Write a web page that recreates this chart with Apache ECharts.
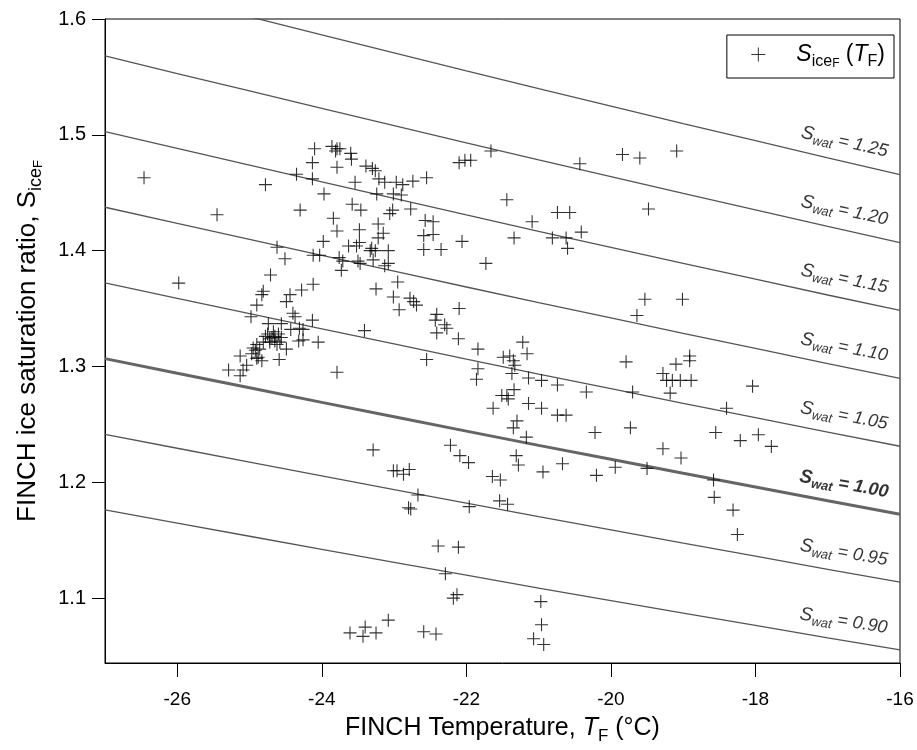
<!DOCTYPE html>
<html><head><meta charset="utf-8">
<script src="https://cdn.jsdelivr.net/npm/echarts@6/dist/echarts.min.js"></script>
<style>html,body{margin:0;padding:0;background:#fff}#c{width:917px;height:750px}</style>
</head><body><div id="c"></div>
<script>
// ---- data ----
const tempF = [
-26.46,-24.78,-24.35,-24.10,-24.13,-24.13,-23.86,-23.79,-23.75,-23.81,-23.60,-23.59,-23.79,-23.39,-23.30,-23.26,-23.21,-23.13,-22.97,-23.54,
-23.97,-23.24,-23.01,-24.30,-25.45,-23.58,-23.46,-23.02,-23.06,-23.84,-23.79,-23.48,-23.22,-23.15,-23.22,-23.98,-23.63,-23.52,-23.48,-23.31,
-23.33,-23.26,-23.08,-24.62,-24.51,-24.12,-24.03,-23.76,-23.71,-23.50,-23.47,-23.29,-23.13,-23.08,-23.73,-24.71,-25.98,-24.12,-24.28,-24.44,
-24.49,-24.81,-24.83,-24.90,-23.25,-23.01,-22.95,-24.98,-24.40,-24.37,-24.13,-24.74,-24.56,-24.43,-24.31,-24.26,-23.41,-24.05,-24.32,-24.26,
-23.79,-22.93,-24.75,-24.69,-24.65,-24.60,-24.56,-24.65,-24.72,-24.62,-24.58,-24.90,-24.81,-24.86,-24.95,-24.92,-24.49,-24.59,-25.13,-24.97,
-24.88,-24.83,-25.29,-25.13,-25.09,-25.04,-24.90,-24.72,-24.67,-24.78,
-22.78,-22.73,-22.69,-22.41,-22.43,-22.41,-22.30,-22.27,-22.10,-22.11,-21.84,-21.84,-21.86,-22.55,-21.22,-21.16,-21.49,-21.40,-21.35,-21.33,
-21.37,-21.14,-20.96,-21.34,-21.51,-21.44,-21.42,-21.63,-21.14,-20.96,-21.30,-21.35,-21.17,-21.31,-21.28,-20.94,-21.64,-21.53,-21.54,-21.43,
-22.22,-22.09,-21.97,-23.29,-23.01,-22.96,-22.87,-22.79,-22.67,-22.80,-22.77,-21.96,-22.39,-22.11,-22.29,-22.18,-22.13,-23.08,-23.61,-23.40,
-23.43,-23.25,-22.59,-22.42,-20.97,-20.96,-21.07,-20.93,
-21.44,-21.09,-20.74,-20.57,-20.43,-19.84,-19.60,-19.09,-19.48,-21.34,-20.81,-20.62,-20.60,-20.41,-19.53,-19.01,-19.64,-19.79,-19.10,-18.91,
-18.91,-20.74,-20.34,-19.70,-19.28,-19.23,-19.15,-19.04,-18.89,-19.18,-18.04,-20.74,-20.62,-18.40,-20.22,-19.73,-18.55,-18.21,-17.96,-17.78,
-19.28,-19.03,-20.67,-20.20,-19.94,-19.50,-18.58,-18.57,-18.31,-18.25,
-22.88,-22.74,-22.55,-22.90,-22.77,-22.57,-22.46,-22.59,-22.46,-22.59,-22.35,-22.06,-22.10,-22.02,-21.94,-21.66,-21.73
];
const sIceF = [
1.463,1.457,1.466,1.488,1.476,1.462,1.490,1.488,1.488,1.486,1.484,1.479,1.472,1.473,1.471,1.469,1.462,1.459,1.459,1.459,
1.449,1.449,1.449,1.435,1.431,1.440,1.435,1.435,1.432,1.428,1.417,1.418,1.423,1.415,1.411,1.408,1.404,1.404,1.407,1.402,
1.400,1.400,1.400,1.403,1.393,1.396,1.396,1.394,1.391,1.391,1.389,1.392,1.387,1.389,1.383,1.379,1.372,1.371,1.366,1.362,
1.356,1.365,1.362,1.353,1.367,1.360,1.373,1.343,1.346,1.343,1.340,1.337,1.337,1.332,1.333,1.332,1.331,1.321,1.322,1.323,
1.295,1.349,1.328,1.325,1.326,1.328,1.325,1.322,1.321,1.319,1.321,1.319,1.321,1.315,1.316,1.314,1.315,1.306,1.309,1.311,
1.308,1.305,1.297,1.292,1.297,1.301,1.307,1.324,1.330,1.326,
1.359,1.356,1.353,1.345,1.340,1.329,1.336,1.333,1.350,1.324,1.315,1.298,1.289,1.306,1.321,1.311,1.308,1.309,1.305,1.301,
1.294,1.290,1.288,1.280,1.275,1.275,1.272,1.264,1.268,1.264,1.253,1.247,1.239,1.223,1.215,1.209,1.205,1.202,1.184,1.181,
1.232,1.223,1.217,1.228,1.210,1.210,1.207,1.211,1.189,1.178,1.177,1.179,1.145,1.144,1.121,1.100,1.103,1.081,1.070,1.075,
1.067,1.070,1.071,1.069,1.097,1.077,1.065,1.060,
1.444,1.425,1.433,1.433,1.475,1.483,1.480,1.486,1.436,1.411,1.411,1.411,1.402,1.416,1.358,1.358,1.344,1.304,1.302,1.309,
1.305,1.284,1.278,1.278,1.294,1.288,1.288,1.288,1.288,1.277,1.283,1.258,1.258,1.264,1.243,1.247,1.243,1.236,1.241,1.231,
1.229,1.221,1.216,1.206,1.213,1.212,1.202,1.187,1.176,1.155,
1.457,1.460,1.463,1.448,1.436,1.426,1.425,1.413,1.414,1.401,1.401,1.408,1.476,1.478,1.478,1.486,1.389
];
// water/ice saturation ratio (the S_wat = 1.00 curve) read along the temperature axis
const curveTemps = [-27,-26,-25,-24,-23,-22,-21,-20,-19,-18,-17,-16];
const waterIceRatio = [1.3068,1.2941,1.2816,1.2690,1.2566,1.2442,1.2319,1.2199,1.2078,1.1960,1.1841,1.1725];
const swatLevels = [0.90,0.95,1.00,1.05,1.10,1.15,1.20,1.25];
const swatLabels = ['0.90','0.95','1.00','1.05','1.10','1.15','1.20','1.25'];
const labelTemp = -17;
const xTicks = [-26,-24,-22,-20,-18,-16];
const yTicks = [1.1,1.2,1.3,1.4,1.5,1.6];

const FONT = '"Liberation Sans", Arial, Helvetica, sans-serif';
const PLUS = 'path://M0,6L12,6M6,0L6,12';
const chart = echarts.init(document.getElementById('c'), null, {renderer:'canvas'});

const series = [];
swatLevels.forEach((lv, i) => {
  const bold = lv === 1.00;
  series.push({
    type:'line', name:'swat'+i, silent:true, showSymbol:false, symbol:'none', z:1,
    data: curveTemps.map((t, k) => [t, lv * waterIceRatio[k]]),
    lineStyle:{color: bold ? '#656565' : '#555555', width: bold ? 3 : 1.3},
    smooth: false
  });
  const k = curveTemps.indexOf(labelTemp);
  const ang = -Math.atan(lv * 0.18) * 180 / Math.PI;
  const fw = bold ? 'bold' : 'normal';
  series.push({
    type:'scatter', name:'lab'+i, silent:true, symbolSize:0, z:3,
    data:[[labelTemp, lv * waterIceRatio[k]]],
    label:{
      show:true, position:'inside', offset:[13,-19], rotate: ang,
      formatter: '{s|S}{w|wat}{e| = ' + swatLabels[i] + '}',
      rich:{
        s:{fontFamily:FONT, fontStyle:'italic', fontWeight:fw, fontSize:19, lineHeight:24, color:'#000'},
        w:{fontFamily:FONT, fontStyle:'italic', fontWeight:fw, fontSize:13, lineHeight:14, verticalAlign:'bottom', color:'#000'},
        e:{fontFamily:FONT, fontStyle:'italic', fontWeight:fw, fontSize:18, lineHeight:24, color:'#000'}
      }
    }
  });
});
series.push({
  type:'scatter', name:'Sice', z:5,
  data: tempF.map((t, i) => [t, sIceF[i]]),
  symbol: PLUS, symbolSize: 13,
  itemStyle:{color:'rgba(0,0,0,0)', borderColor:'#000', borderWidth:1.1}
});

function titleRich(fs) {
  return {
    s:{fontFamily:FONT, fontSize:fs, lineHeight:fs+8, color:'#000'},
    si:{fontFamily:FONT, fontStyle:'italic', fontSize:fs, lineHeight:fs+8, color:'#000'},
    sub:{fontFamily:FONT, fontSize:Math.round(fs*0.68), lineHeight:Math.round(fs*0.68)+2, verticalAlign:'bottom', color:'#000'},
    ss:{fontFamily:FONT, fontSize:Math.round(fs*0.5), lineHeight:Math.round(fs*0.5), verticalAlign:'bottom', color:'#000'}
  };
}

chart.setOption({
  animation:false,
  backgroundColor:'#fff',
  grid:{left:105, right:17, top:19, bottom:76, show:true, borderColor:'#000', borderWidth:1, backgroundColor:'transparent'},
  legend:{
    right:23, top:35, orient:'horizontal',
    borderColor:'#000', borderWidth:1, borderRadius:0, padding:[8,9,8,24],
    itemWidth:14, itemHeight:14,
    itemStyle:{color:'rgba(0,0,0,0)', borderColor:'#000', borderWidth:1},
    data:[{name:'Sice', icon: PLUS}],
    formatter: () => '{gap|}{si|S}{sub|ice}{ss|F}{s| (}{si|T}{sub|F}{s|)}',
    textStyle:{fontFamily:FONT, fontSize:23, color:'#000', rich:Object.assign({gap:{width:26}}, titleRich(23))}
  },
  xAxis:{
    type:'value', min:-27, max:-16,
    axisLine:{show:true, lineStyle:{color:'#000', width:1}},
    axisTick:{show:true, customValues:xTicks, length:14, lineStyle:{color:'#000', width:1}},
    axisLabel:{customValues:xTicks, margin:27, fontFamily:FONT, fontSize:19, color:'#000'},
    splitLine:{show:false},
    name:'FINCH Temperature, {si|T}{sub|F} (°C)', nameLocation:'middle', nameGap:49,
    nameTextStyle:{fontFamily:FONT, fontSize:25, color:'#000', rich:titleRich(25)}
  },
  yAxis:{
    type:'value', min:1.044, max:1.6,
    axisLine:{show:true, lineStyle:{color:'#000', width:1}},
    axisTick:{show:true, customValues:yTicks, length:13, lineStyle:{color:'#000', width:1}},
    axisLabel:{customValues:yTicks, margin:19, fontFamily:FONT, fontSize:20, color:'#000', formatter: v => v.toFixed(1)},
    splitLine:{show:false},
    name:'FINCH ice saturation ratio, {s|S}{sub|ice}{ss|F}', nameLocation:'middle', nameGap:60, nameRotate:90,
    nameTextStyle:{fontFamily:FONT, fontSize:26, color:'#000', rich:titleRich(26)}
  },
  series
});
</script></body></html>
